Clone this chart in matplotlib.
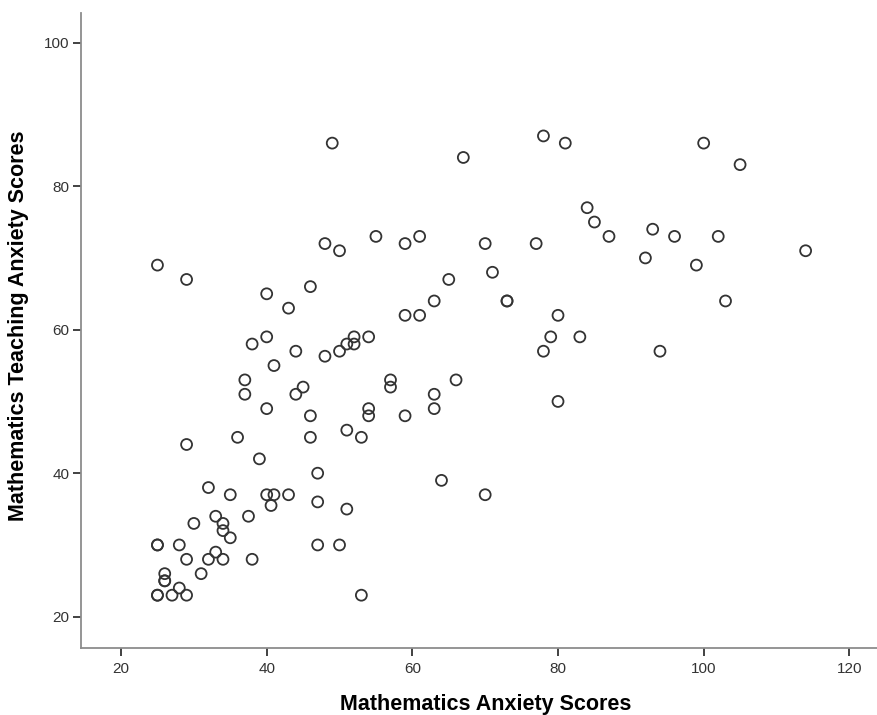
import matplotlib
matplotlib.use('Agg')
import matplotlib.pyplot as plt

# Mathematics anxiety (x) vs mathematics teaching anxiety (y)
math_anxiety = [
    25, 29, 49, 67, 78, 81, 100, 105, 84, 85, 87, 93, 96, 102, 92, 99, 114,
    48, 50, 55, 59, 61, 70, 77, 71, 65, 46, 40, 43, 73, 73, 63, 59, 61, 80, 103,
    38, 40, 44, 48, 50, 51, 52, 52, 54, 79, 83, 78, 94,
    41, 37, 37, 45, 44, 57, 57, 66, 63, 63, 59, 40, 46, 54, 54, 80,
    51, 29, 36, 46, 53, 39, 47, 64, 70,
    32, 35, 40, 41, 43, 40.6, 47, 51, 33, 37.5, 30, 34, 34, 35,
    25, 25, 28, 47, 50, 29, 32, 33, 34, 38, 31, 26, 26, 26, 28, 25, 25, 27, 29, 53,
]
teaching_anxiety = [
    69, 67, 86, 84, 87, 86, 86, 83, 77, 75, 73, 74, 73, 73, 70, 69, 71,
    72, 71, 73, 72, 73, 72, 72, 68, 67, 66, 65, 63, 64, 64, 64, 62, 62, 62, 64,
    58, 59, 57, 56.3, 57, 58, 59, 58, 59, 59, 59, 57, 57,
    55, 53, 51, 52, 51, 53, 52, 53, 51, 49, 48, 49, 48, 49, 48, 50,
    46, 44, 45, 45, 45, 42, 40, 39, 37,
    38, 37, 37, 37, 37, 35.5, 36, 35, 34, 34, 33, 33, 32, 31,
    30, 30, 30, 30, 30, 28, 28, 29, 28, 28, 26, 26, 25, 25, 24, 23, 23, 23, 23, 23,
]

x_ticks = [20, 40, 60, 80, 100, 120]
y_ticks = [20, 40, 60, 80, 100]

plt.rcParams['font.family'] = ['Liberation Sans', 'DejaVu Sans']

fig = plt.figure(figsize=(8.77, 7.15), dpi=100)
ax = fig.add_axes([0.092, 0.0933, 0.908, 0.889])

ax.scatter(math_anxiety, teaching_anxiety, s=62, facecolors='none',
           edgecolors='#333333', linewidths=1.3, zorder=3)

ax.set_xlim(14.46, 123.8)
ax.set_ylim(15.6, 104.18)
ax.set_xticks(x_ticks)
ax.set_yticks(y_ticks)

for side in ['top', 'right']:
    ax.spines[side].set_visible(False)
for side in ['left', 'bottom']:
    ax.spines[side].set_color('#8c8c8c')
    ax.spines[side].set_linewidth(1.3)

ax.tick_params(axis='both', direction='out', length=6, width=1.3,
               color='#333333', labelsize=11, labelcolor='#333333')
ax.tick_params(axis='x', pad=4)
ax.tick_params(axis='y', pad=2)

ax.set_xlabel('Mathematics Anxiety Scores', fontsize=15.5, fontweight='bold')
ax.set_ylabel('Mathematics Teaching Anxiety Scores', fontsize=15.5, fontweight='bold')
ax.xaxis.label.set_va('center')
ax.yaxis.label.set_va('center')
ax.xaxis.set_label_coords(0.508, -0.0892)
ax.yaxis.set_label_coords(-0.0775, 0.507)

fig.savefig('out.png', dpi=100)
